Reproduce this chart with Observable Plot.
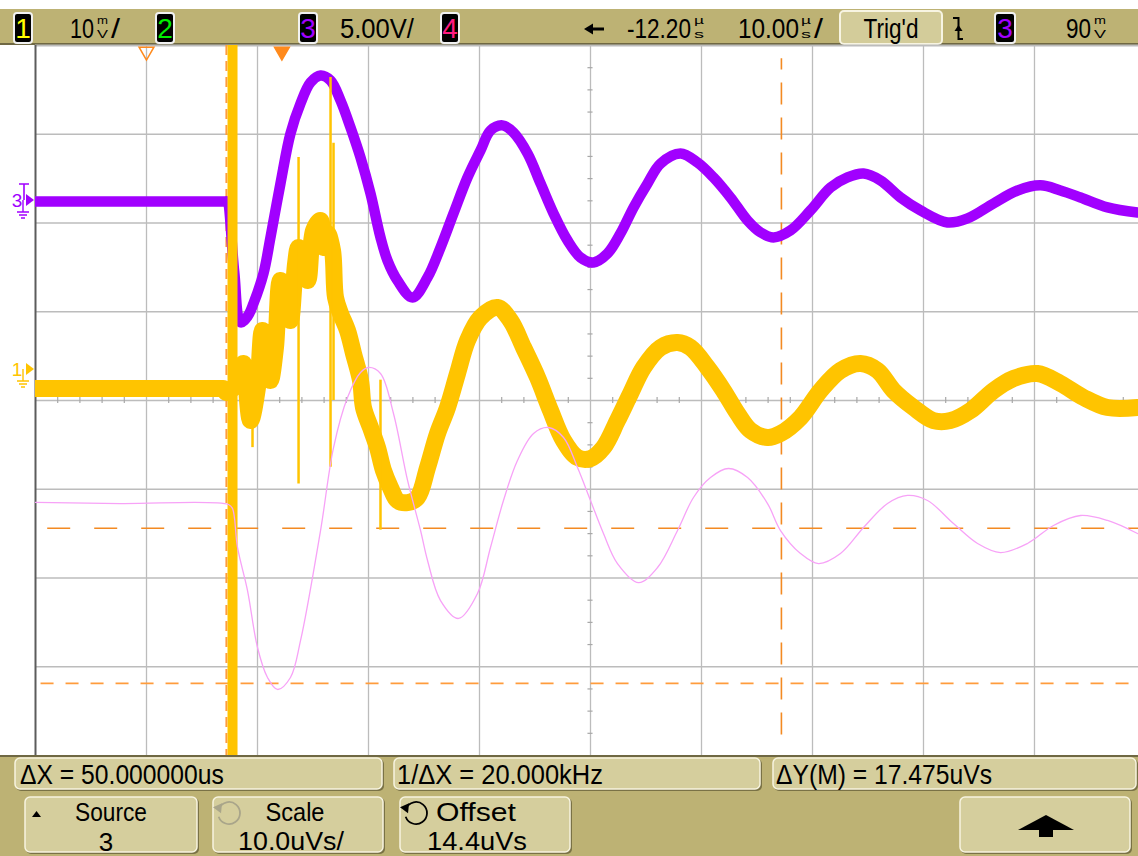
<!DOCTYPE html>
<html><head><meta charset="utf-8">
<script src="https://cdn.jsdelivr.net/npm/d3@7"></script>
<script src="https://cdn.jsdelivr.net/npm/@observablehq/plot@0.6"></script>
<style>
html,body{margin:0;padding:0;background:#fff;overflow:hidden;}
#wrap{position:relative;width:1138px;height:856px;overflow:hidden;}
#wrap svg{display:block;}
</style></head><body><div id="wrap"></div>
<script>
// ---------- settings ----------
const timePerDiv = 10;            // µs/div
const screenTime = [-62.2, 37.17]; // µs, visible part of the 10-div screen (centre = -12.2 µs delay)
const gridTimes = [-52.2, -42.2, -32.2, -22.2, -12.2, -2.2, 7.8, 17.8, 27.8];
const gridDivs = [-3, -2, -1, 0, 1, 2, 3];
const ch1Scale = 10, ch1Ground = 0.349;   // mV/div, ground marker in divisions
const ch3Scale = 5,  ch3Ground = 2.254;   // V/div
const mathScale = 10, mathOffset = 14.4;  // µVs/div, offset µVs
const cursorX = [-45.0, 5.0];              // µs
const cursorY = [0.0, -17.475];            // µVs
const timeMarkers = [{t: -52.2, filled: false}, {t: -40.0, filled: true}];

// ---------- channel 3 (V) ----------
const ch3Trace = [[-62.2,-0.06],[-50.0,-0.06],[-45.1,-0.06],[-44.95,-0.06],[-44.3,-4.0],[-43.73,-6.87],[-43.10,-6.54],[-42.56,-5.80],[-41.66,-4.11],[-41.03,-2.08],[-40.13,0.96],[-39.23,3.77],[-38.32,5.47],[-37.42,6.65],[-36.52,7.04],[-35.62,6.76],[-34.72,5.63],[-33.82,4.11],[-32.92,2.42],[-32.02,0.39],[-31.12,-2.08],[-30.49,-3.38],[-29.59,-4.51],[-28.23,-5.47],[-26.88,-4.34],[-25.71,-2.65],[-24.54,-0.73],[-23.28,1.30],[-22.11,2.82],[-21.21,3.94],[-20.13,4.23],[-19.14,3.83],[-17.87,2.65],[-16.70,0.96],[-15.53,-0.73],[-14.27,-2.25],[-13.10,-3.21],[-11.93,-3.49],[-10.67,-2.99],[-9.50,-1.86],[-8.32,-0.39],[-7.06,0.96],[-5.89,2.08],[-4.09,2.65],[-2.56,2.14],[-1.12,1.30],[0.41,0.17],[1.95,-1.13],[3.12,-1.80],[4.29,-2.08],[5.82,-1.69],[7.62,-0.56],[9.42,0.73],[10.95,1.30],[12.40,1.52],[13.93,1.13],[15.73,0.17],[17.53,-0.56],[19.96,-1.24],[21.77,-1.01],[24.11,-0.17],[26.27,0.56],[28.34,0.85],[30.14,0.56],[31.95,0.17],[34.38,-0.39],[37.08,-0.68]];

// ---------- channel 1 (mV) ----------
const ch1Trace = [[-62.2,-2.14],[-50.0,-2.14],[-45.4,-2.14],[-45.25,-2.14],[-44.99,-2.59],[-43.82,-1.24],[-43.46,0.68],[-42.83,-5.75],[-42.20,-2.03],[-41.75,4.39],[-41.30,1.80],[-41.03,-1.24],[-40.58,2.48],[-40.13,10.03],[-39.50,6.99],[-39.23,5.52],[-38.77,11.94],[-38.50,13.75],[-37.69,10.03],[-37.15,15.66],[-36.52,16.79],[-36.25,13.75],[-35.89,15.32],[-35.44,13.41],[-35.17,8.11],[-34.72,6.31],[-34.09,4.39],[-33.55,1.80],[-32.92,-1.24],[-32.65,-4.28],[-32.02,-6.54],[-31.39,-8.79],[-30.85,-11.38],[-30.22,-13.30],[-29.59,-14.76],[-28.68,-14.99],[-27.78,-14.42],[-26.88,-11.04],[-25.98,-7.21],[-25.08,-4.28],[-24.18,-0.45],[-23.28,3.27],[-22.11,5.86],[-20.58,6.99],[-19.41,5.52],[-18.23,2.48],[-16.97,-0.90],[-15.80,-4.62],[-14.63,-8.00],[-13.37,-9.92],[-12.20,-10.03],[-11.03,-8.79],[-9.77,-5.75],[-8.59,-2.70],[-7.42,0.23],[-5.89,2.48],[-4.36,3.04],[-3.19,2.48],[-1.66,0.23],[-0.22,-2.37],[1.05,-4.96],[2.22,-6.87],[3.75,-7.66],[4.92,-7.21],[6.72,-5.41],[8.52,-2.37],[10.32,-0.11],[12.13,0.68],[13.66,-0.11],[15.10,-2.37],[16.90,-4.28],[18.70,-5.75],[20.23,-5.75],[22.04,-4.62],[24.11,-2.37],[25.91,-1.01],[28.07,-0.45],[30.14,-1.58],[32.22,-3.15],[34.38,-4.28],[37.08,-4.28]];
// narrow glitches: [time µs, top mV, bottom mV]
const ch1Spikes = [[-42.65,0.7,-8.8],[-38.50,23.9,-12.9],[-35.62,32.9,-11.0],[-35.35,25.5,-3.5],[-31.12,-1.2,-18.1]];
const ch1Burst = [[-44.45,50,-50]];

// ---------- math: integral (µVs) ----------
const mathTrace = [[-62.2,2.91],[-54.54,2.79],[-44.81,2.68],[-44.45,2.23],[-44.00,-2.16],[-43.10,-7.01],[-42.20,-13.43],[-41.30,-16.81],[-40.40,-18.16],[-39.23,-16.81],[-38.32,-12.64],[-36.52,-0.25],[-35.35,9.10],[-34.09,14.74],[-32.92,17.55],[-32.20,18.12],[-31.12,17.44],[-29.95,12.94],[-28.68,5.39],[-27.51,-0.25],[-26.88,-3.63],[-25.71,-8.14],[-24.09,-10.16],[-22.38,-7.35],[-21.21,-2.16],[-20.04,3.13],[-18.78,7.64],[-17.33,10.68],[-15.98,11.36],[-14.63,10.23],[-13.37,6.85],[-12.20,3.13],[-11.03,-0.59],[-9.77,-3.97],[-7.87,-6.11],[-6.16,-4.42],[-4.36,-0.25],[-2.92,3.47],[-1.39,5.72],[0.23,6.74],[1.95,5.72],[3.75,2.79],[4.92,-0.25],[6.72,-2.84],[8.34,-3.97],[10.32,-2.84],[12.40,0.09],[14.56,2.79],[16.36,3.70],[18.16,3.13],[20.50,0.54],[22.67,-1.71],[24.74,-2.73],[27.17,-1.71],[29.51,0.32],[31.95,1.44],[34.38,0.88],[37.08,-0.59]];

// ---------- colours / fonts ----------
const KHAKI = "#bdb274", PANEL = "#d5ce9d";
const C1 = "#ffc400", C2 = "#00ee00", C3 = "#a100ff", C4 = "#ff1a80", CM = "#f7a2f7";
const CUR_A = "#f38a22", CUR_B = "#ff9c3c";
const FONT = "'Liberation Sans Narrow','Liberation Sans',Arial,sans-serif";

const wrap = document.getElementById("wrap");

// text squeezed horizontally to a target width with a transform (svg must be in the DOM)
function T(sel, x, y, s, size, len, fill = "#000", anchor = "start") {
  const t = sel.append("text").attr("x", x).attr("y", y).attr("font-family", FONT)
    .attr("font-size", size).attr("fill", fill).attr("text-anchor", anchor).text(s);
  if (len) {
    const w = t.node().getComputedTextLength();
    if (w > 0) t.attr("transform", `translate(${x},0) scale(${len / w},1) translate(${-x},0)`);
  }
  return t;
}
function reading(sel, x, digits, len, ux, uw, top, bottom, slashX) {
  T(sel, x, 38, digits, 28, len);
  T(sel, ux, 24, top, 10, uw);
  T(sel, ux, 38, bottom, 10, uw);
  if (slashX) T(sel, slashX, 38, "/", 28, 9);
}
function chanBox(sel, x, w, label, color) {
  sel.append("rect").attr("x", x).attr("y", 13).attr("width", w).attr("height", 30).attr("rx", 3)
    .attr("fill", "#000").attr("stroke", "#f2f2f2").attr("stroke-width", 2);
  T(sel, x + w / 2, 38, label, 28, null, color, "middle");
}

// ---------- top status bar ----------
const bar = d3.create("svg").attr("width", 1138).attr("height", 45);
wrap.appendChild(bar.node());
bar.append("rect").attr("x", 0).attr("y", 9).attr("width", 1138).attr("height", 36).attr("fill", KHAKI);
bar.append("rect").attr("x", 0).attr("y", 43).attr("width", 1138).attr("height", 2).attr("fill", "#6f6843");
chanBox(bar, 14, 18, "1", "#ffff00");
reading(bar, 70, "10", 24, 97, 11, "m", "V", 111);
chanBox(bar, 156, 18, "2", C2);
chanBox(bar, 299, 18, "3", C3);
T(bar, 340, 38, "5.00V/", 28, 74);
chanBox(bar, 441, 18, "4", C4);
bar.append("path").attr("d", "M604,29H591").attr("stroke", "#000").attr("stroke-width", 3);
bar.append("path").attr("d", "M584,29L593,23.5L593,34.5Z").attr("fill", "#000");
reading(bar, 627, "-12.20", 64, 694, 10, "µ", "s", null);
reading(bar, 738, "10.00", 61, 801, 10, "µ", "s", 814);
bar.append("rect").attr("x", 840).attr("y", 11).attr("width", 102).attr("height", 33).attr("rx", 4)
  .attr("fill", "#d3cc9a").attr("stroke", "#f7f4e2").attr("stroke-width", 2);
T(bar, 891, 38, "Trig'd", 28, 55, "#000", "middle");
bar.append("path").attr("d", "M953,18H958.5V39H963").attr("fill", "none").attr("stroke", "#000").attr("stroke-width", 2);
bar.append("path").attr("d", "M954.5,31L958.5,25L962.5,31Z").attr("fill", "#000");
chanBox(bar, 995, 20, "3", C3);
reading(bar, 1066, "90", 25, 1094, 12, "m", "V", null);

// ---------- the scope screen ----------
const d1 = v => v / ch1Scale + ch1Ground;
const d3v = v => v / ch3Scale + ch3Ground;
const dm = v => (v - mathOffset) / mathScale;
const minorT = d3.range(-62.2 + 2, 37.17, 2).filter(t => { const f = ((t + 62.2) / 10) % 1; return f > 0.01 && f < 0.99; });
const minorD = d3.range(-4 + 0.25, 4, 0.25).filter(v => Math.abs(v % 1) > 0.01);

const plot = Plot.plot({
  width: 1138, height: 710,
  marginLeft: 35, marginRight: 0, marginTop: 0, marginBottom: 0,
  x: {domain: screenTime, axis: null},
  y: {domain: [-4, 4], axis: null},
  style: {background: "white", overflow: "visible"},
  marks: [
    Plot.ruleX(gridTimes, {stroke: "#bcbcbc", strokeWidth: 1.3}),
    Plot.ruleY(gridDivs, {stroke: "#bcbcbc", strokeWidth: 1.3}),
    Plot.ruleY([4], {stroke: "#bcbcbc", strokeWidth: 2}),
    Plot.ruleX(minorT, {x: d => d, y1: -0.035, y2: 0.035, stroke: "#a8a8a8", strokeWidth: 1.2}),
    Plot.ruleY(minorD, {y: d => d, x1: -12.2 - 0.23, x2: -12.2 + 0.23, stroke: "#a8a8a8", strokeWidth: 1.2}),
    Plot.ruleX([screenTime[0]], {stroke: "#5c5c5c", strokeWidth: 2}),
    // cursors
    Plot.ruleX([cursorX[0]], {stroke: CUR_B, strokeWidth: 2, strokeDasharray: "10,6"}),
    Plot.ruleX([cursorX[1]], {stroke: CUR_A, strokeWidth: 1.6, strokeDasharray: "22,13", y1: -3.77, y2: 3.85}),
    Plot.ruleY([cursorY[0]], {y: dm, x1: -61.1, x2: screenTime[1], stroke: CUR_A, strokeWidth: 1.5, strokeDasharray: "23,24"}),
    Plot.ruleY([cursorY[1]], {y: dm, x1: -61.7, x2: screenTime[1], stroke: CUR_B, strokeWidth: 1.6, strokeDasharray: "13,12"}),
    // channel 3
    Plot.line(ch3Trace, {x: d => d[0], y: d => d3v(d[1]), stroke: C3, strokeWidth: 10.5, curve: "catmull-rom", clip: true}),
    // channel 1
    Plot.line(ch1Trace, {x: d => d[0], y: d => d1(d[1]), stroke: C1, strokeWidth: 17, curve: "catmull-rom", clip: true}),
    Plot.ruleX(ch1Spikes, {x: d => d[0], y1: d => d1(d[2]), y2: d => d1(d[1]), stroke: C1, strokeWidth: 2.5, clip: true}),
    Plot.ruleX(ch1Burst, {x: d => d[0], y1: d => d1(d[2]), y2: d => d1(d[1]), stroke: C1, strokeWidth: 10, clip: true}),
    // math
    Plot.line(mathTrace, {x: d => d[0], y: d => dm(d[1]), stroke: CM, strokeWidth: 1.3, curve: "catmull-rom", clip: true}),
    // time markers at top
    Plot.dot(timeMarkers, {x: "t", y: 4, dy: 6, symbol: "triangle", rotate: 180, r: 5.5,
      fill: d => d.filled ? "#ff8a1c" : "none", stroke: "#ff8a1c", strokeWidth: 1.5})
  ]
});
wrap.appendChild(plot);

// channel ground markers in the left margin, placed through the plot's y scale
const ys = plot.scale("y");
const svgSel = d3.select(plot);
function groundMarker(div, label, color, trig) {
  const y = ys.apply(div);
  const g = svgSel.append("g");
  T(g, 17, y + 7, label, 19, null, color, "middle");
  g.append("path").attr("d", `M26,${y - 6}L34,${y}L26,${y + 6}Z`).attr("fill", color);
  g.append("path").attr("d", `M23,${y}V${y + 12}M17,${y + 12}H29M19,${y + 15}H27M21,${y + 18}H25`)
    .attr("stroke", color).attr("stroke-width", 1.4).attr("fill", "none");
  if (trig) g.append("path").attr("d", `M19,${y - 16}H29M24,${y - 16}V${y}`).attr("stroke", color).attr("stroke-width", 1.6);
}
groundMarker(ch3Ground, "3", C3, true);
groundMarker(ch1Ground, "1", C1, false);

// ---------- bottom softkey panel ----------
const bot = d3.create("svg").attr("width", 1138).attr("height", 101);
wrap.appendChild(bot.node());
bot.append("rect").attr("width", 1138).attr("height", 101).attr("fill", KHAKI);
bot.append("rect").attr("width", 1138).attr("height", 2).attr("fill", "#6f6843");
function box(x, y, w, h) {
  bot.append("rect").attr("x", x + 1).attr("y", y + 1).attr("width", w).attr("height", h).attr("rx", 5).attr("fill", "#7a7246");
  bot.append("rect").attr("x", x).attr("y", y).attr("width", w - 1).attr("height", h - 1).attr("rx", 5)
    .attr("fill", PANEL).attr("stroke", "#f7f4e0").attr("stroke-width", 1.5);
}
box(15, 3, 368, 32); T(bot, 20, 29, "ΔX = 50.000000us", 27, 204);
box(394, 3, 367, 32); T(bot, 397, 29, "1/ΔX = 20.000kHz", 27, 206);
box(773, 3, 364, 32); T(bot, 776, 29, "ΔY(M) = 17.475uVs", 27, 216);
box(25, 42, 173, 56); box(213, 42, 171, 56); box(400, 42, 171, 56); box(960, 42, 171, 56);
bot.append("path").attr("d", "M32,62L36.5,56L41,62Z").attr("fill", "#000");
T(bot, 111, 66, "Source", 26, 72, "#000", "middle");
T(bot, 106, 95.5, "3", 26, null, "#000", "middle");
T(bot, 295, 66, "Scale", 26, 59, "#000", "middle");
T(bot, 291, 95.5, "10.0uVs/", 26, 106, "#000", "middle");
T(bot, 476, 66, "Offset", 26, 80, "#000", "middle");
T(bot, 477, 95.5, "14.4uVs", 26, 100, "#000", "middle");
function circ(cx, cy, color) {
  const r = 11, a0 = 205 * Math.PI / 180, a1 = 160 * Math.PI / 180;
  const p0 = [cx + r * Math.cos(a0), cy + r * Math.sin(a0)], p1 = [cx + r * Math.cos(a1), cy + r * Math.sin(a1)];
  bot.append("path").attr("d", `M${p0[0]},${p0[1]}A${r},${r} 0 1 1 ${p1[0]},${p1[1]}`)
    .attr("fill", "none").attr("stroke", color).attr("stroke-width", 1.8);
  bot.append("path").attr("d", `M${p0[0] - 6},${p0[1] - 1}L${p0[0] + 3},${p0[1] - 5}L${p0[0] + 2},${p0[1] + 5}Z`).attr("fill", color);
}
circ(229, 58, "#a9a58a");
circ(416, 58, "#000");
bot.append("path").attr("d", "M1018,75L1046,60L1074,75Z").attr("fill", "#000");
bot.append("rect").attr("x", 1039).attr("y", 74).attr("width", 14).attr("height", 8).attr("fill", "#000");
</script></body></html>
